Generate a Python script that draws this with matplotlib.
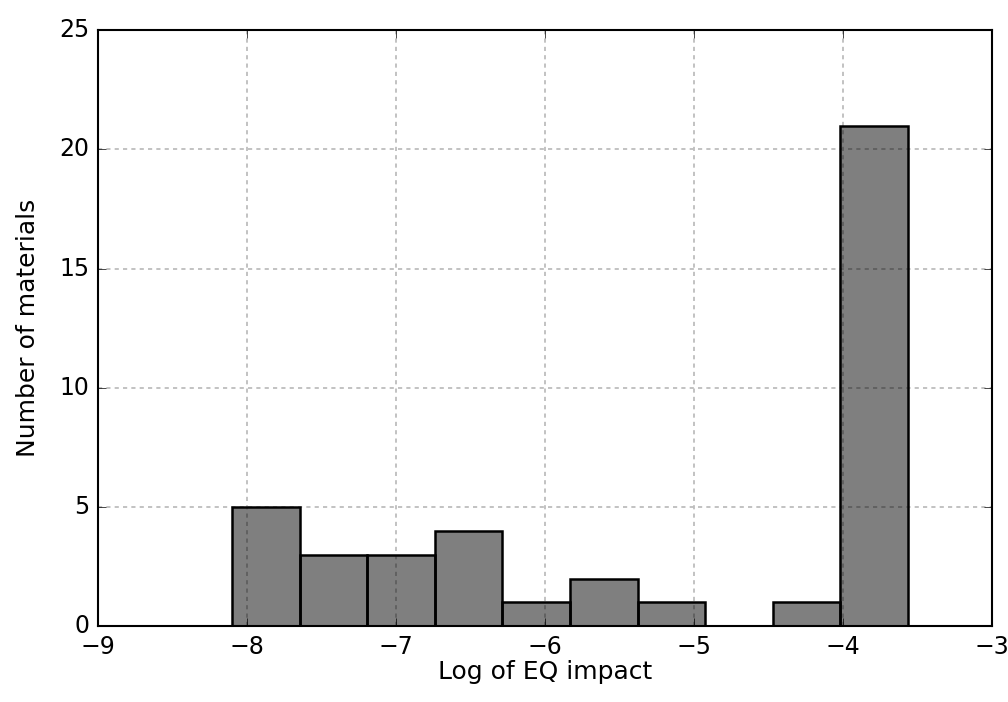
import matplotlib
matplotlib.use("Agg")
import matplotlib.pyplot as plt

# histogram bins
bin_left = -8.10
bin_width = 0.4537
counts = [5, 3, 3, 4, 1, 2, 1, 0, 1, 21]

plt.style.use('classic')

fig = plt.figure(figsize=(10.08, 7.02), dpi=100)
ax = fig.add_axes([0.0972, 0.108, 0.8869, 0.849])

lefts = [bin_left + i * bin_width for i in range(len(counts))]
ax.bar(lefts, counts, width=bin_width, align='edge',
       facecolor=(0, 0, 0, 0.5), edgecolor='black', linewidth=1.8)

ax.set_xlim(-9, -3)
ax.set_ylim(0, 25)
ax.set_axisbelow(True)
ax.grid(True, linestyle=(0, (3, 3)), color='#bdbdbd', linewidth=1.3)
ax.tick_params(labelsize=17, pad=6, length=6)
ax.set_xlabel('Log of EQ impact', fontsize=18, labelpad=1)
ax.set_ylabel('Number of materials', fontsize=18, labelpad=14)
for sp in ax.spines.values():
    sp.set_linewidth(1.5)

fig.savefig('out.png', dpi=100, facecolor='white')
